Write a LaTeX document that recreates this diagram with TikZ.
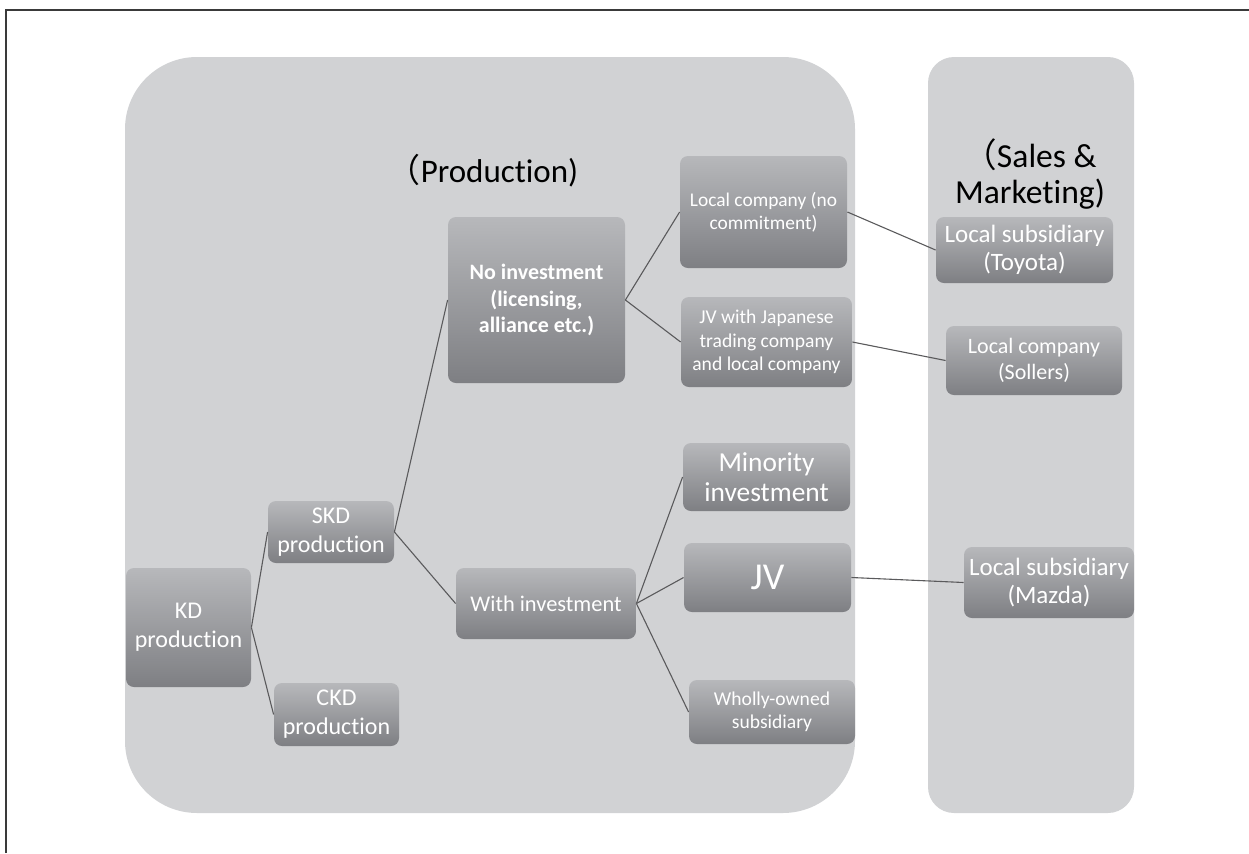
\documentclass[tikz,border=0pt]{standalone}
\usepackage{fontspec}
\setmainfont{Carlito}[Ligatures=NoCommon,Contextuals=NoAlternate]
\newfontfamily\cjkfont{Noto Sans CJK JP}
\definecolor{panelgray}{HTML}{D1D2D4}
\definecolor{boxtop}{HTML}{B7B8BB}
\definecolor{boxbot}{HTML}{7E7F83}
\definecolor{linkgray}{HTML}{5A5A5C}
\definecolor{framegray}{HTML}{3A3A3A}
\newcommand{\fs}[1]{\fontsize{#1}{1.2\dimexpr #1pt\relax}\selectfont}
\begin{document}
\begin{tikzpicture}[x=0.5pt,y=-0.5pt,
  panel/.style={fill=panelgray, draw=none},
  box/.style={rectangle, rounded corners=4pt, top color=boxtop, bottom color=boxbot,
    draw=none, text=white, align=center, inner sep=0pt},
  link/.style={draw=linkgray, line width=0.55pt},
  title/.style={text=black, align=center, inner sep=0pt}]
\useasboundingbox (0,0) rectangle (1249,853);
% frame
\draw[framegray, line width=0.8pt] (6,853) -- (6,10) -- (1249,10);
% panels
\fill[panel, rounded corners=36pt] (125,57) rectangle (855,813);
\fill[panel, rounded corners=13pt] (928,57) rectangle (1134,813);
% titles
\node[title, font=\fs{16.5}] (ptitle) at (483,171) {{\cjkfont （}Production)};
\node[title, font={\fontsize{16.8}{17.8}\selectfont}] (stitle) at (1030,174) {{\cjkfont （}Sales \&\\Marketing)};
% boxes
\node[box, minimum width=62.5pt, minimum height=59.5pt, font=\fs{12}] (kd) at (188.5,627.5) {KD\\production};
\node[box, minimum width=63pt, minimum height=31pt, font=\fs{12}] (skd) at (331,532) {SKD\\production};
\node[box, minimum width=62.5pt, minimum height=31.5pt, font=\fs{12}] (ckd) at (336.5,714.5) {CKD\\production};
\node[box, minimum width=88.5pt, minimum height=83pt, font=\bfseries\fs{11}] (noinv) at (536.5,300) {No investment\\(licensing,\\alliance etc.)};
\node[box, minimum width=90pt, minimum height=35.5pt, font=\fs{11.2}] (withinv) at (546,603.5) {With investment};
\node[box, minimum width=83.5pt, minimum height=56pt, font=\fs{9.7}] (loc) at (763.5,212) {Local company (no\\commitment)};
\node[box, minimum width=85.5pt, minimum height=45pt, font=\fs{9.8}] (jvj) at (766.5,342) {JV with Japanese\\trading company\\and local company};
\node[box, minimum width=83.5pt, minimum height=34pt, font={\fontsize{13.7}{15}\selectfont}] (mino) at (766.5,477) {Minority\\investment};
\node[box, minimum width=83.5pt, minimum height=34.5pt, font=\fs{19}] (jv) at (767.5,577.5) {JV};
\node[box, minimum width=83pt, minimum height=32pt, font=\fs{9.8}] (wholly) at (772,712) {Wholly-owned\\subsidiary};
\node[box, minimum width=88.5pt, minimum height=33pt, font={\fontsize{12.5}{14}\selectfont}] (toyota) at (1024.5,250) {Local subsidiary\\(Toyota)};
\node[box, minimum width=88pt, minimum height=34.5pt, font=\fs{11}] (sollers) at (1034,360.5) {Local company\\(Sollers)};
\node[box, minimum width=85pt, minimum height=35.5pt, font={\fontsize{12.5}{14}\selectfont}] (mazda) at (1049,582.5) {Local subsidiary\\(Mazda)};
% connectors
\draw[link] (kd.east) -- (skd.west);
\draw[link] (kd.east) -- (ckd.west);
\draw[link] (skd.east) -- (noinv.west);
\draw[link] (skd.east) -- (withinv.west);
\draw[link] (noinv.east) -- (loc.west);
\draw[link] (noinv.east) -- (jvj.west);
\draw[link] (withinv.east) -- (mino.west);
\draw[link] (withinv.east) -- (jv.west);
\draw[link] (withinv.east) -- (wholly.west);
\draw[link] (loc.east) -- (toyota.west);
\draw[link] (jvj.east) -- (sollers.west);
\draw[link] (jv.east) -- (mazda.west);
\end{tikzpicture}
\end{document}
